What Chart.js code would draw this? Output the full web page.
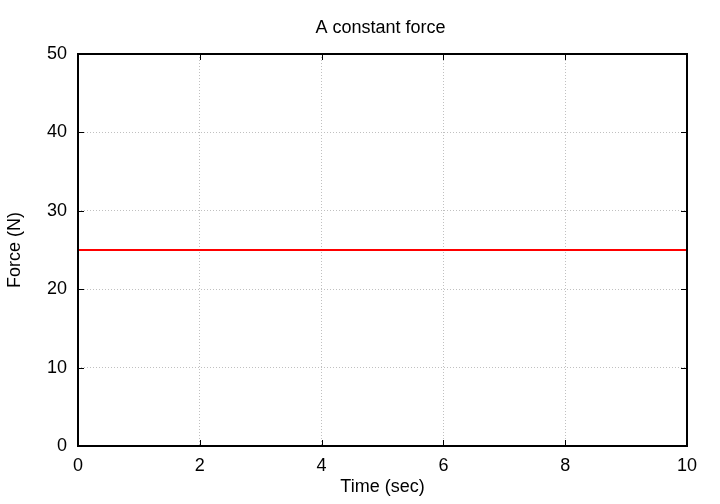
<!DOCTYPE html>
<html lang="en">
<head>
    <meta charset="utf-8" />
    <title>A constant force</title>
    <script src="https://cdn.jsdelivr.net/npm/chart.js"></script>
    <style>
        html, body { margin: 0; padding: 0; background: #fff; }
        #wrap { width: 720px; height: 504px; }
    </style>
</head>
<body>
    <div id="wrap"><canvas id="forceChart" width="720" height="504"></canvas></div>

    <script>
        // data
        const timeSec = [0, 1, 2, 3, 4, 5, 6, 7, 8, 9, 10];
        const forceN = [25, 25, 25, 25, 25, 25, 25, 25, 25, 25, 25];
        const xTicks = [0, 2, 4, 6, 8, 10];
        const yTicks = [0, 10, 20, 30, 40, 50];
        const chartTitle = 'A constant force';

        const FONT = 'Liberation Sans, Arial, Helvetica, sans-serif';

        // gnuplot-style frame with inward ticks on all four sides, title centred on the plot box
        const framePlugin = {
            id: 'frame',
            afterDatasetsDraw(chart) {
                const { ctx, chartArea: a, scales } = chart;
                const len = 6;
                ctx.save();
                ctx.strokeStyle = '#000';
                ctx.lineWidth = 1;
                ctx.beginPath();
                scales.x.ticks.forEach(t => {
                    const px = Math.round(scales.x.getPixelForValue(t.value)) + 0.5;
                    ctx.moveTo(px, a.bottom); ctx.lineTo(px, a.bottom - len);
                    ctx.moveTo(px, a.top); ctx.lineTo(px, a.top + len);
                });
                scales.y.ticks.forEach(t => {
                    const py = Math.round(scales.y.getPixelForValue(t.value)) + 0.5;
                    ctx.moveTo(a.left, py); ctx.lineTo(a.left + len, py);
                    ctx.moveTo(a.right, py); ctx.lineTo(a.right - len, py);
                });
                ctx.stroke();
                ctx.lineWidth = 2;
                ctx.strokeRect(a.left, a.top, a.right - a.left, a.bottom - a.top);

                ctx.fillStyle = '#000';
                ctx.font = '18px ' + FONT;
                ctx.textAlign = 'center';
                ctx.textBaseline = 'middle';
                ctx.fillText(chartTitle, (a.left + a.right) / 2 - 2, 28);
                ctx.restore();
            }
        };

        const ctx = document.getElementById('forceChart').getContext('2d');
        new Chart(ctx, {
            type: 'line',
            data: {
                labels: timeSec,
                datasets: [{
                    data: timeSec.map((t, i) => ({ x: t, y: forceN[i] })),
                    borderColor: '#ff0000',
                    borderWidth: 2,
                    pointRadius: 0,
                    fill: false,
                    tension: 0
                }]
            },
            options: {
                responsive: false,
                animation: false,
                layout: { padding: { left: 0, right: 33, top: 54, bottom: 0 } },
                plugins: {
                    legend: { display: false },
                    tooltip: { enabled: false },
                    title: { display: false }
                },
                scales: {
                    x: {
                        type: 'linear',
                        min: 0,
                        max: 10,
                        afterBuildTicks: s => { s.ticks = xTicks.map(v => ({ value: v })); },
                        afterFit: s => { s.height = 58; },
                        ticks: {
                            color: '#000',
                            padding: 9,
                            maxRotation: 0,
                            font: { family: FONT, size: 18 }
                        },
                        grid: { color: '#c0c0c0', lineWidth: 1, drawTicks: false },
                        border: { display: false, dash: [1, 2] },
                        title: {
                            display: true,
                            text: 'Time (sec)',
                            color: '#000',
                            font: { family: FONT, size: 18 },
                            padding: { top: 0, bottom: 6 }
                        }
                    },
                    y: {
                        type: 'linear',
                        min: 0,
                        max: 50,
                        afterBuildTicks: s => { s.ticks = yTicks.map(v => ({ value: v })); },
                        afterFit: s => { s.width = 78; },
                        ticks: {
                            color: '#000',
                            padding: 11,
                            font: { family: FONT, size: 18 }
                        },
                        grid: { color: '#c0c0c0', lineWidth: 1, drawTicks: false },
                        border: { display: false, dash: [1, 2] },
                        title: {
                            display: true,
                            text: 'Force (N)',
                            color: '#000',
                            font: { family: FONT, size: 18 },
                            padding: { top: 4, bottom: 0 }
                        }
                    }
                }
            },
            plugins: [framePlugin]
        });
    </script>
</body>
</html>
